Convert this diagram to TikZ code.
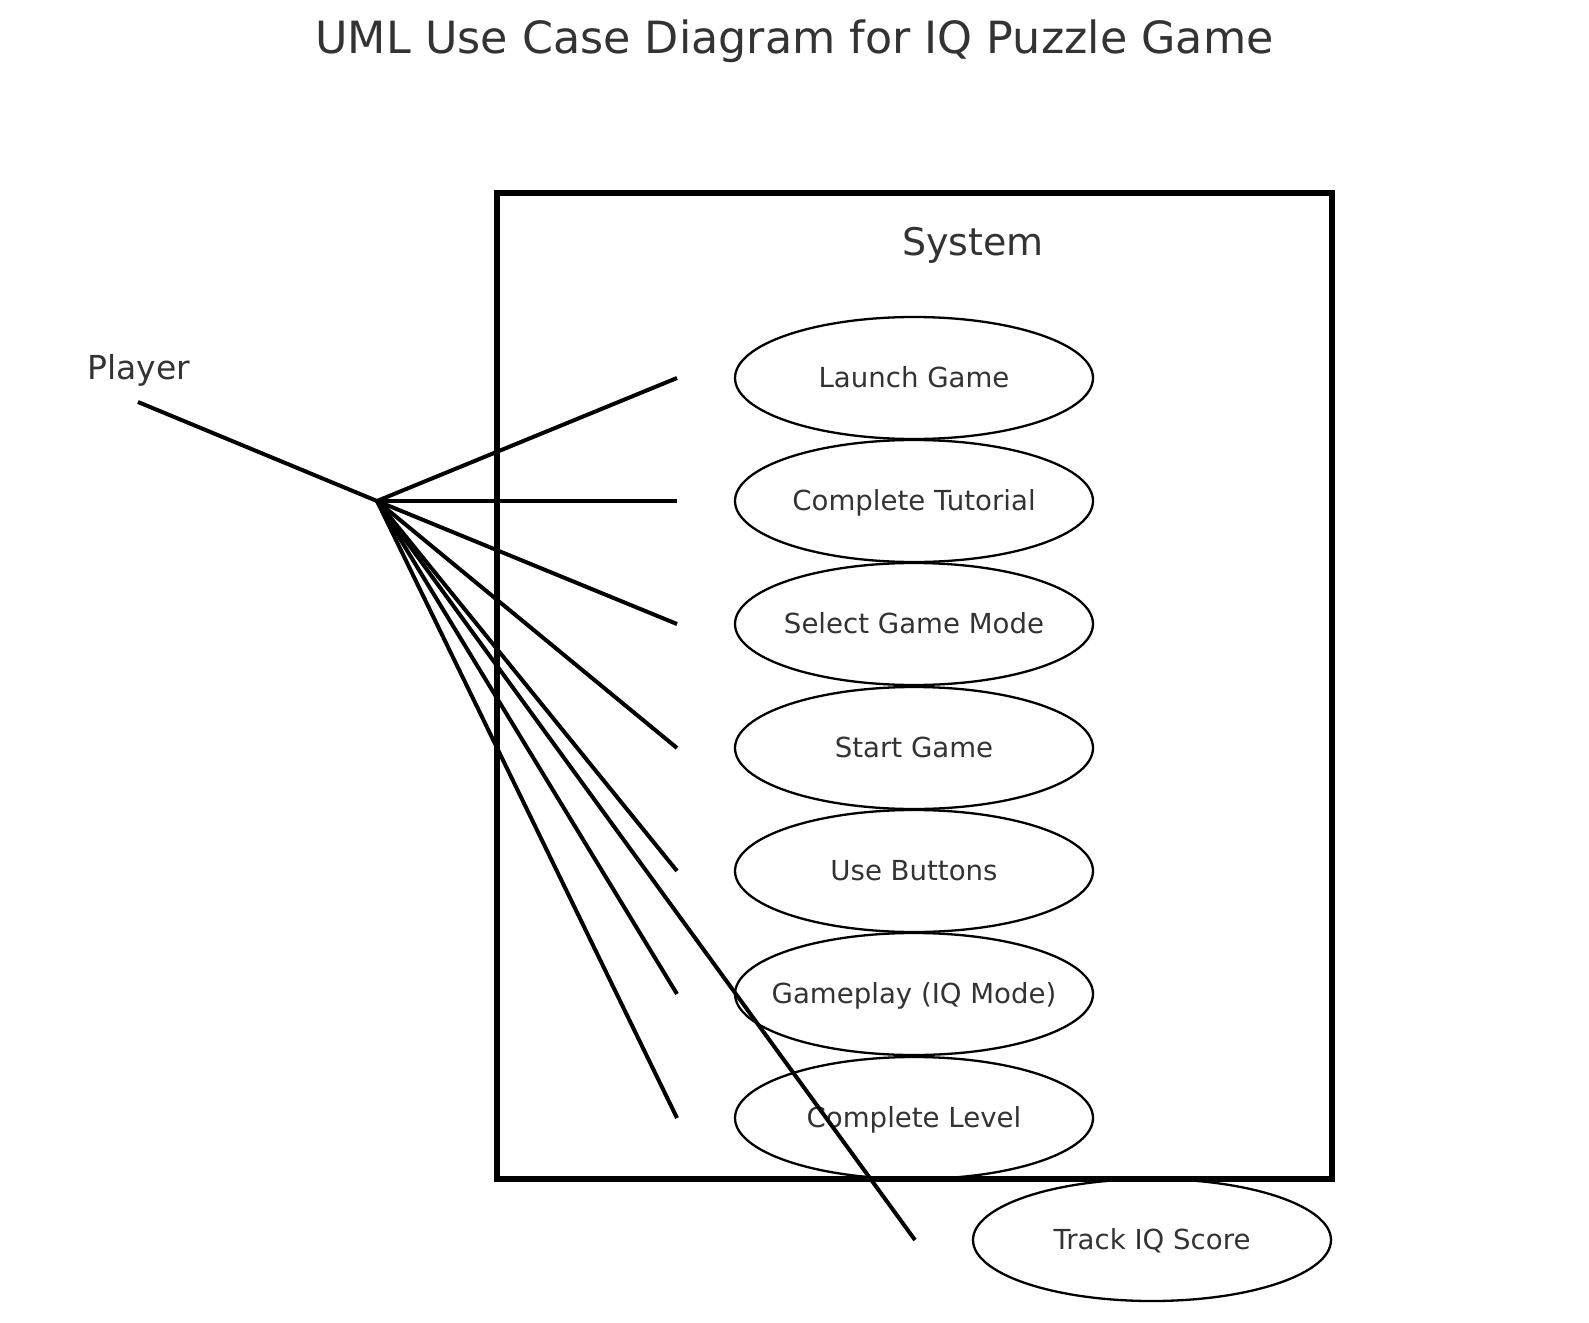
\documentclass[tikz,border=0pt]{standalone}
\usepackage{fontspec}
\setmainfont{DejaVu Sans}
\usetikzlibrary{shapes.geometric}
\definecolor{txt}{HTML}{333333}
\begin{document}
\begin{tikzpicture}[x=1pt,y=-1pt,
  usecase/.style={draw=black, line width=2.3pt, ellipse, minimum width=358pt, minimum height=122pt, inner sep=0pt},
  uclabel/.style={text=txt, font=\fontsize{27.6pt}{30pt}\selectfont, anchor=base, inner sep=0pt},
  assoc/.style={draw=black, line width=4pt},
  sysbox/.style={draw=black, line width=5.3pt, minimum width=835pt, minimum height=986pt, inner sep=0pt}]
\useasboundingbox (0,0) rectangle (1589,1322);
\node[text=txt, font=\fontsize{44.4pt}{50pt}\selectfont, anchor=base, inner sep=0pt] (title) at (794.5,53) {UML Use Case Diagram for IQ Puzzle Game};
\node[sysbox] (sys) at (914.5,686) {};
\node[text=txt, font=\fontsize{38pt}{42pt}\selectfont, anchor=base, inner sep=0pt] (systitle) at (973,255) {System};
\node[text=txt, font=\fontsize{33pt}{36pt}\selectfont, anchor=base, inner sep=0pt] (player) at (139,379) {Player};
% use cases
\foreach \i/\y in {1/378,2/501,3/624,4/748,5/871,6/994,7/1118}{
  \node[usecase] (u\i) at (914,\y) {};
  \coordinate (e\i) at (677,\y);
}
\node[usecase] (u8) at (1152,1240) {};
\coordinate (e8) at (915,1240);
\node[uclabel] (l1) at (914,387) {Launch Game};
\node[uclabel] (l2) at (914,510) {Complete Tutorial};
\node[uclabel] (l3) at (914,633) {Select Game Mode};
\node[uclabel] (l4) at (914,757) {Start Game};
\node[uclabel] (l5) at (914,880) {Use Buttons};
\node[uclabel] (l6) at (914,1003) {Gameplay (IQ Mode)};
\node[uclabel] (l7) at (914,1127) {Complete Level};
\node[uclabel] (l8) at (1152,1249) {Track IQ Score};
% actor
\coordinate (actor) at (138,402);
\coordinate (hub) at (377,501);
\draw[assoc] (actor) -- (hub);
\foreach \i in {1,...,8}{
  \draw[assoc] (hub) -- (e\i);
}
\end{tikzpicture}
\end{document}
